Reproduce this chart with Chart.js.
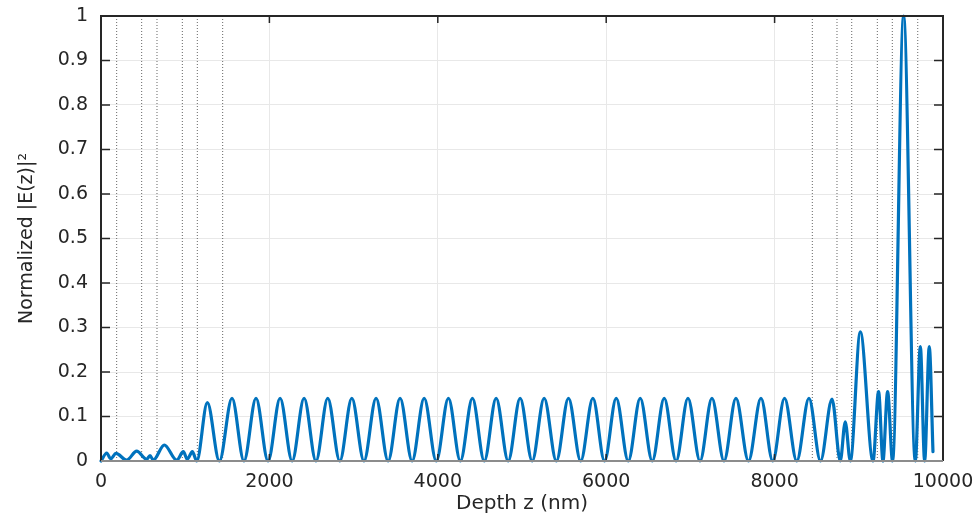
<!DOCTYPE html>
<html>
<head>
<meta charset="utf-8">
<title>Normalized |E(z)|^2 vs depth</title>
<script src="https://cdn.jsdelivr.net/npm/chart.js@4.4.0/dist/chart.umd.min.js"></script>
<style>
  html, body { margin: 0; padding: 0; background: #fff; }
  #wrap { width: 979px; height: 518px; }
</style>
</head>
<body>
<div id="wrap"><canvas id="field-chart"></canvas></div>
<script>
// maxima and minima of the field intensity
const depthNm = [
  0, 68, 115, 178, 305, 424, 543, 582, 621, 752, 899, 978, 1025, 1085, 1137,
  1263, 1406, 1556, 1698, 1841, 1984, 2127, 2270, 2412, 2553, 2693, 2836,
  2979, 3123, 3267, 3410, 3552, 3695, 3838, 3982, 4126, 4268, 4411, 4552,
  4693, 4836, 4978, 5121, 5263, 5408, 5552, 5697, 5842, 5980, 6119, 6262,
  6404, 6547, 6689, 6830, 6971, 7114, 7256, 7399, 7541, 7690, 7838, 7978,
  8118, 8263, 8408, 8545, 8682, 8780, 8839, 8899, 9018, 9169, 9235, 9287,
  9342, 9401, 9532, 9671, 9731, 9782, 9837, 9881
];
const intensity = [
  0, 0.018, 0.005, 0.017, 0.002, 0.022, 0.004, 0.012, 0.002, 0.036, 0.002, 0.021, 0.004, 0.021, 0,
  0.131, 0, 0.141, 0, 0.141, 0, 0.141, 0, 0.141, 0, 0.141, 0,
  0.141, 0, 0.141, 0, 0.141, 0, 0.141, 0, 0.141, 0, 0.141, 0,
  0.141, 0, 0.141, 0, 0.141, 0, 0.141, 0, 0.141, 0, 0.141, 0,
  0.141, 0, 0.141, 0, 0.141, 0, 0.141, 0, 0.141, 0, 0.141, 0,
  0.141, 0, 0.141, 0, 0.139, 0, 0.088, 0, 0.29, 0, 0.156, 0,
  0.156, 0, 1, 0, 0.257, 0, 0.257, 0.021
];

// layer interfaces (dotted lines)
const layerBoundaries = [186, 483, 665, 966, 1144, 1445, 8448, 8741, 8916, 9220, 9398, 9700];

const xTickValues = [0, 2000, 4000, 6000, 8000, 10000];
const yTickValues = [0, 0.1, 0.2, 0.3, 0.4, 0.5, 0.6, 0.7, 0.8, 0.9, 1];
const yTickLabels = ['0', '0.1', '0.2', '0.3', '0.4', '0.5', '0.6', '0.7', '0.8', '0.9', '1'];

const axisColor = '#262626';
const fontFamily = '"DejaVu Sans", "Liberation Sans", sans-serif';

// matlab style box with inward ticks
const boxPlugin = {
  id: 'box',
  afterDatasetsDraw(chart) {
    const { ctx, chartArea: a, scales: { x, y } } = chart;
    ctx.save();
    ctx.strokeStyle = axisColor;
    ctx.lineWidth = 1.5;
    ctx.beginPath();
    yTickValues.forEach(v => {
      const py = y.getPixelForValue(v);
      ctx.moveTo(a.left, py);
      ctx.lineTo(a.left + 9, py);
      ctx.moveTo(a.right, py);
      ctx.lineTo(a.right - 9, py);
    });
    xTickValues.forEach(v => {
      const px = x.getPixelForValue(v);
      ctx.moveTo(px, a.top);
      ctx.lineTo(px, a.top + 7);
      ctx.moveTo(px, a.bottom);
      ctx.lineTo(px, a.bottom - 7);
    });
    ctx.stroke();

    ctx.lineWidth = 2;
    ctx.beginPath();
    ctx.moveTo(a.left, a.bottom);
    ctx.lineTo(a.left, a.top);
    ctx.lineTo(a.right, a.top);
    ctx.lineTo(a.right, a.bottom);
    ctx.stroke();
    ctx.strokeStyle = '#8c8c8c';
    ctx.beginPath();
    ctx.moveTo(a.left, a.bottom);
    ctx.lineTo(a.right, a.bottom);
    ctx.stroke();
    ctx.restore();
  }
};

const curve = depthNm.map((z, i) => ({ x: z, y: intensity[i] }));

const boundaryLines = layerBoundaries.map(z => ({
  data: [{ x: z, y: 0 }, { x: z, y: 1 }],
  borderColor: '#666666',
  borderWidth: 1,
  borderDash: [1, 2],
  pointRadius: 0,
  order: 1
}));

const ctx = document.getElementById('field-chart').getContext('2d');

new Chart(ctx, {
  type: 'line',
  data: {
    datasets: [{
      data: curve,
      borderColor: '#0072BD',
      borderWidth: 3.2,
      cubicInterpolationMode: 'monotone',
      borderJoinStyle: 'round',
      borderCapStyle: 'round',
      pointRadius: 0,
      clip: 4,
      order: 0
    }, ...boundaryLines]
  },
  options: {
    responsive: true,
    maintainAspectRatio: false,
    animation: false,
    layout: { autoPadding: false, padding: { left: 16, right: 36, top: 16, bottom: 0 } },
    plugins: {
      legend: { display: false },
      tooltip: { enabled: false }
    },
    scales: {
      x: {
        type: 'linear',
        min: 0,
        max: 10000,
        afterBuildTicks: s => { s.ticks = xTickValues.map(v => ({ value: v })); },
        afterFit: s => { s.height = 57; s.paddingLeft = 0; s.paddingRight = 0; },
        grid: { color: '#e8e8e8', drawTicks: false },
        border: { display: false },
        ticks: {
          padding: 10,
          color: axisColor,
          autoSkip: false,
          maxRotation: 0,
          font: { family: fontFamily, size: 19 },
          callback: v => String(v)
        },
        title: {
          display: true,
          text: 'Depth z (nm)',
          color: axisColor,
          font: { family: fontFamily, size: 20 },
          padding: { top: 0, bottom: 2 }
        }
      },
      y: {
        type: 'linear',
        min: 0,
        max: 1,
        afterBuildTicks: s => { s.ticks = yTickValues.map(v => ({ value: v })); },
        afterFit: s => { s.width = 85; s.paddingTop = 0; s.paddingBottom = 0; },
        grid: { color: '#e8e8e8', drawTicks: false },
        border: { display: false },
        ticks: {
          padding: 13,
          color: axisColor,
          font: { family: fontFamily, size: 19 },
          callback: (v, i) => yTickLabels[i]
        },
        title: {
          display: true,
          text: 'Normalized |E(z)|²',
          color: axisColor,
          font: { family: fontFamily, size: 19 },
          padding: { top: 0, bottom: 0 }
        }
      }
    }
  },
  plugins: [boxPlugin]
});
</script>
</body>
</html>
